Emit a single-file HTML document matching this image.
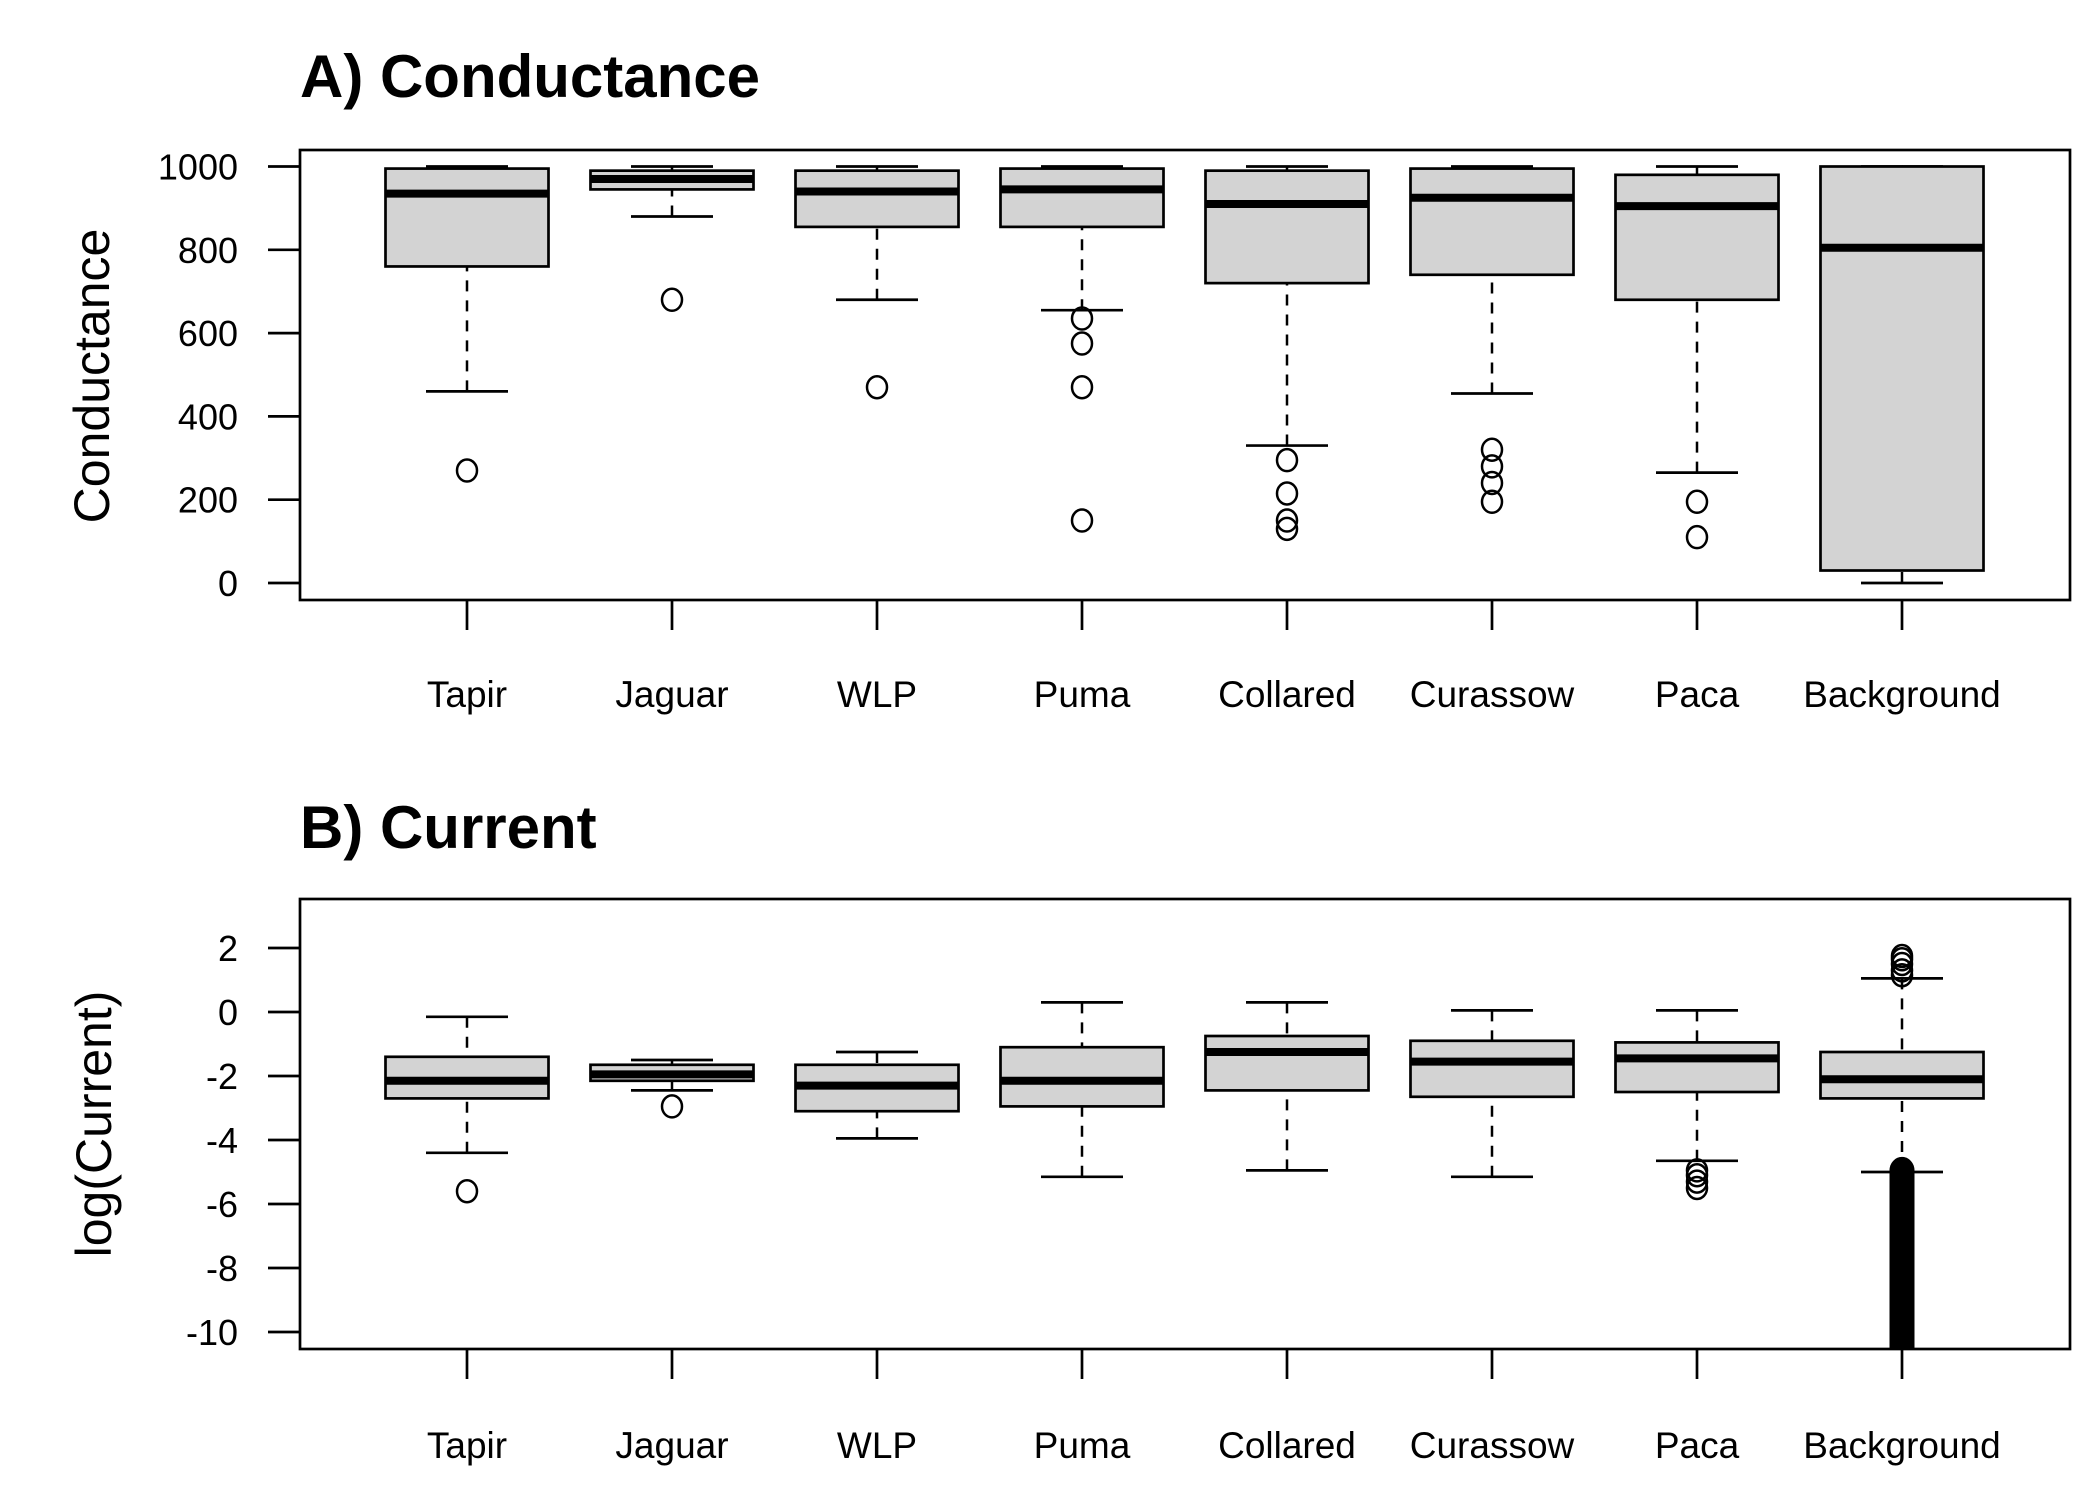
<!DOCTYPE html>
<html><head><meta charset="utf-8"><style>
html,body{margin:0;padding:0;background:#fff;}
svg{display:block;font-family:"Liberation Sans",Arial,sans-serif;}
</style></head><body>
<svg id="chart" width="2100" height="1500" viewBox="0 0 2100 1500" xmlns="http://www.w3.org/2000/svg">
<rect width="2100" height="1500" fill="#fff"/>
</svg>
<script>
const categories = ["Tapir","Jaguar","WLP","Puma","Collared","Curassow","Paca","Background"];
// Panel A: conductance
const condLo  = [460,880,680,655,330,455,265,0];
const condQ1  = [760,945,855,855,720,740,680,30];
const condMed = [935,970,940,945,910,925,905,805];
const condQ3  = [995,990,990,995,990,995,980,1000];
const condHi  = [1000,1000,1000,1000,1000,1000,1000,1000];
const condOut = [[270],[680],[470],[635,575,470,150],[295,215,150,130],[320,280,240,195],[195,110],[]];
const condTicks = [0,200,400,600,800,1000];
// Panel B: log(Current)
const curLo  = [-4.4,-2.45,-3.95,-5.15,-4.95,-5.15,-4.65,-5.0];
const curQ1  = [-2.7,-2.15,-3.1,-2.95,-2.45,-2.65,-2.5,-2.7];
const curMed = [-2.15,-1.95,-2.3,-2.15,-1.25,-1.55,-1.45,-2.1];
const curQ3  = [-1.4,-1.65,-1.65,-1.1,-0.75,-0.9,-0.95,-1.25];
const curHi  = [-0.15,-1.5,-1.25,0.3,0.3,0.05,0.05,1.05];
const curOut = [[-5.6],[-2.95],[],[],[],[],[-4.95,-5.1,-5.3,-5.5],[1.15,1.3,1.5,1.65,1.75]];
const curDenseLow = [-4.95,-10.6]; // background dense low-outlier range
const curTicks = [-10,-8,-6,-4,-2,0,2];

const NS="http://www.w3.org/2000/svg";
const svg=document.getElementById('chart');
function el(tag,attrs,parent){const e=document.createElementNS(NS,tag);for(const k in attrs)e.setAttribute(k,attrs[k]);(parent||svg).appendChild(e);return e;}
const L=300,R=2070;
const xPos=i=>467+205*i;
const HB=81.5, HS=41;

function panel(p){
  const g=el('g',{});
  
  
  const y=v=>p.y0+(v-p.v0)*(p.y1-p.y0)/(p.v1-p.v0);
  const t=el('text',{x:L,y:p.titleY,'font-size':60,'font-weight':'bold'},g);t.textContent=p.title;
  
  
  const yl=el('text',{x:0,y:0,'font-size':50,'text-anchor':'middle',transform:`translate(${p.ylX},${p.ylY}) rotate(-90)`},g);yl.textContent=p.ylabel;
  
  
  p.ticks.forEach(v=>{
    el('line',{x1:268,x2:L,y1:y(v),y2:y(v),stroke:'#000','stroke-width':2.7},g);
    const tx=el('text',{x:238,y:y(v)+13,'font-size':36,'text-anchor':'end'},g);tx.textContent=v;
    
    
  });
  const clipId='clip'+p.name;
  const cp=el('clipPath',{id:clipId},g);el('rect',{x:L,y:p.top,width:R-L,height:p.bot-p.top},cp);
  const inner=el('g',{'clip-path':`url(#${clipId})`},g);
  categories.forEach((c,i)=>{
    const x=xPos(i);
    const b=el('g',{},inner);
    
    
    el('line',{x1:x,x2:x,y1:y(p.lo[i]),y2:y(p.q1[i]),stroke:'#000','stroke-width':2.5,'stroke-dasharray':'11 9'},b);
    el('line',{x1:x,x2:x,y1:y(p.hi[i]),y2:y(p.q3[i]),stroke:'#000','stroke-width':2.5,'stroke-dasharray':'11 9'},b);
    el('line',{x1:x-HS,x2:x+HS,y1:y(p.lo[i]),y2:y(p.lo[i]),stroke:'#000','stroke-width':2.7},b);
    el('line',{x1:x-HS,x2:x+HS,y1:y(p.hi[i]),y2:y(p.hi[i]),stroke:'#000','stroke-width':2.7},b);
    el('rect',{x:x-HB,y:y(p.q3[i]),width:2*HB,height:y(p.q1[i])-y(p.q3[i]),fill:'#d3d3d3',stroke:'#000','stroke-width':2.7},b);
    el('line',{x1:x-HB,x2:x+HB,y1:y(p.med[i]),y2:y(p.med[i]),stroke:'#000','stroke-width':8},b);
    p.out[i].forEach(v=>el('ellipse',{cx:x,cy:y(v),rx:10,ry:11,fill:'none',stroke:'#000','stroke-width':2.5},b));
    if(p.dense && i===categories.length-1){
      for(let v=p.dense[0];v>=p.dense[1];v-=0.05) el('ellipse',{cx:x,cy:y(v),rx:10,ry:11,fill:'none',stroke:'#000','stroke-width':5},b);
      el('rect',{x:x-11,y:y(p.dense[0]),width:22,height:y(p.dense[1])-y(p.dense[0]),fill:'#000'},b);
    }
    el('line',{x1:x,x2:x,y1:p.bot,y2:p.bot+30,stroke:'#000','stroke-width':2.7},g);
    const lt=el('text',{x:x,y:p.labY,'font-size':37,'text-anchor':'middle'},g);lt.textContent=c;
    
    
  });
  const fr=el('rect',{x:L,y:p.top,width:R-L,height:p.bot-p.top,fill:'none',stroke:'#000','stroke-width':2.7},g);
  
  
}
panel({name:'panel-a-conductance',title:'A) Conductance',ylabel:'Conductance',titleY:97,ylX:109,ylY:376,
  top:150,bot:600,v0:0,y0:583,v1:1000,y1:166.5,ticks:condTicks,labY:707,
  lo:condLo,q1:condQ1,med:condMed,q3:condQ3,hi:condHi,out:condOut});
panel({name:'panel-b-current',title:'B) Current',ylabel:'log(Current)',titleY:848,ylX:111,ylY:1124,
  top:899,bot:1349,v0:0,y0:1012,v1:2,y1:948,ticks:curTicks,labY:1458,
  lo:curLo,q1:curQ1,med:curMed,q3:curQ3,hi:curHi,out:curOut,dense:curDenseLow});
</script>
</body></html>
